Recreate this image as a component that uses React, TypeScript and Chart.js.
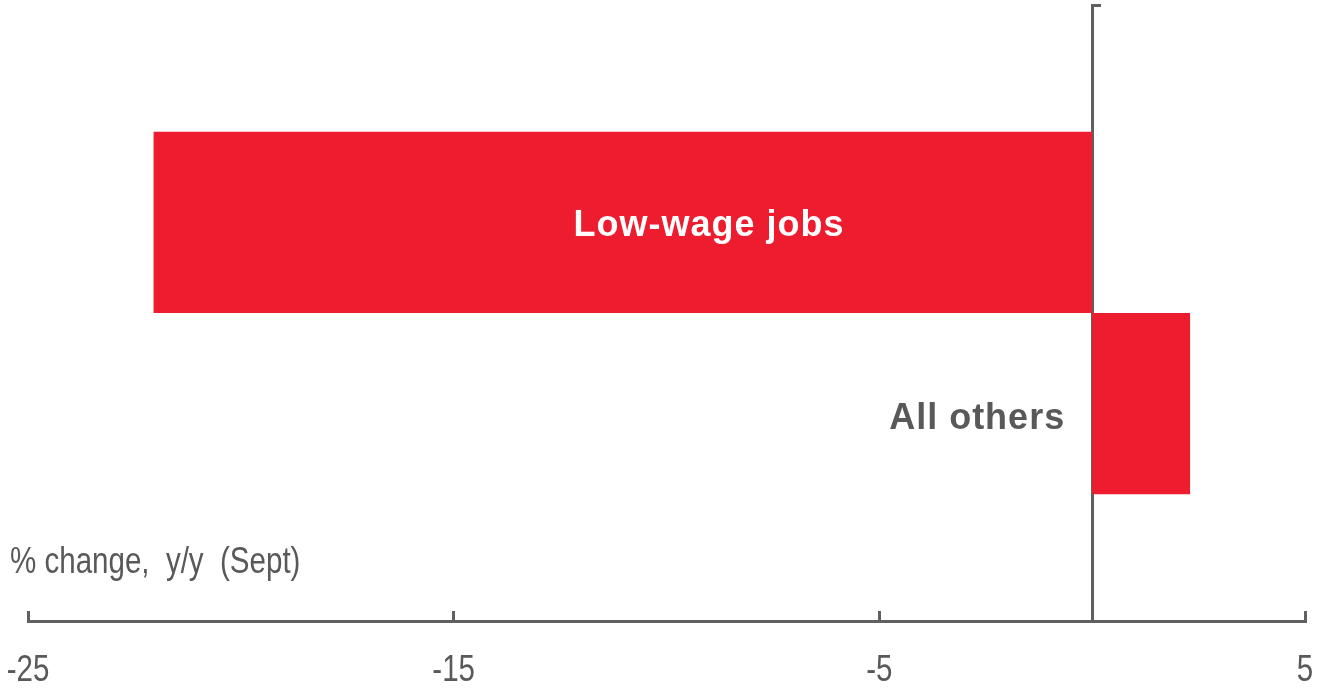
import { useEffect, useRef } from 'react';
import { Chart, registerables } from 'chart.js';

Chart.register(...registerables);

// ---- Data ----
const categories = [''];
const seriesNames = ['Low-wage jobs', 'All others'];
const lowWageValues = [-22.05];
const allOthersValues = [2.3];
const xTickValues = [-25, -15, -5, 5];
const axisTitle = '% change,  y/y  (Sept)';

const SANS = '"Liberation Sans", Arial, sans-serif';
const RED = '#ED1C2E';
const AXIS = '#606060';
const TEXT = '#595959';
const NARROW_SCALE = 0.82;

function drawNarrow(ctx: CanvasRenderingContext2D, text: string, x: number, y: number, align: CanvasTextAlign) {
  ctx.save();
  ctx.translate(x, y);
  ctx.scale(NARROW_SCALE, 1);
  ctx.textAlign = align;
  ctx.textBaseline = 'alphabetic';
  ctx.fillText(text, 0, 0);
  ctx.restore();
}

const labelPlugin = {
  id: 'barLabels',
  afterDraw(chart: any) {
    const { ctx } = chart;
    const x = chart.scales.x;
    const bar0 = chart.getDatasetMeta(0).data[0];
    const bar1 = chart.getDatasetMeta(1).data[0];
    ctx.save();
    // bar labels
    ctx.font = `bold 36px ${SANS}`;
    (ctx as any).letterSpacing = '1px';
    ctx.textBaseline = 'middle';
    ctx.fillStyle = '#FFFFFF';
    ctx.textAlign = 'center';
    ctx.fillText(seriesNames[0], x.getPixelForValue(-9), bar0.y + 4);
    ctx.fillStyle = TEXT;
    ctx.textAlign = 'right';
    ctx.fillText(seriesNames[1], x.getPixelForValue(0) - 27, bar1.y + 15);
    (ctx as any).letterSpacing = '0px';
    // narrow texts: axis title and tick labels
    ctx.font = `36px ${SANS}`;
    ctx.fillStyle = TEXT;
    drawNarrow(ctx, axisTitle, 10, 573, 'left');
    const baseline = x.top + 60;
    x.ticks.forEach((t: any) => {
      drawNarrow(ctx, String(t.value), x.getPixelForValue(t.value), baseline, 'center');
    });
    ctx.restore();
  },
};

export default function App() {
  const ref = useRef<HTMLCanvasElement>(null);

  useEffect(() => {
    if (!ref.current) return;
    const chart = new Chart(ref.current, {
      type: 'bar',
      data: {
        labels: categories,
        datasets: [
          {
            label: seriesNames[0],
            data: lowWageValues,
            backgroundColor: RED,
            borderWidth: 0,
            categoryPercentage: 362 / 615,
            barPercentage: 1,
          },
          {
            label: seriesNames[1],
            data: allOthersValues,
            backgroundColor: RED,
            borderWidth: 0,
            categoryPercentage: 362 / 615,
            barPercentage: 1,
          },
        ],
      },
      options: {
        indexAxis: 'y',
        animation: false,
        responsive: true,
        maintainAspectRatio: false,
        layout: { padding: { left: 28, right: 14, top: 5, bottom: 0 } },
        plugins: {
          legend: { display: false },
          tooltip: { enabled: false },
          title: { display: false },
        },
        scales: {
          x: {
            type: 'linear',
            position: 'bottom',
            min: -25,
            max: 5,
            afterBuildTicks: (scale: any) => {
              scale.ticks = xTickValues.map((v) => ({ value: v }));
            },
            grid: {
              drawOnChartArea: false,
              drawTicks: true,
              tickLength: -10,
              tickWidth: 3,
              tickColor: AXIS,
              color: AXIS,
              lineWidth: 3,
            },
            border: { display: true, color: AXIS, width: 3 },
            ticks: { display: false },
            afterFit: (scale: any) => {
              scale.height = 67;
            },
          },
          y: {
            type: 'category',
            position: { x: 0 },
            offset: true,
            z: 1,
            grid: {
              drawOnChartArea: false,
              drawTicks: true,
              offset: true,
              tickLength: -10,
              tickWidth: 3,
              tickColor: AXIS,
              color: AXIS,
              lineWidth: 3,
            },
            border: { display: true, color: AXIS, width: 3 },
            ticks: { display: false },
          },
        },
      } as any,
      plugins: [labelPlugin],
    });
    return () => chart.destroy();
  }, []);

  return (
    <div style={{ position: 'fixed', left: 0, top: 0, width: 1319, height: 688, background: '#fff' }}>
      <canvas ref={ref} />
    </div>
  );
}
